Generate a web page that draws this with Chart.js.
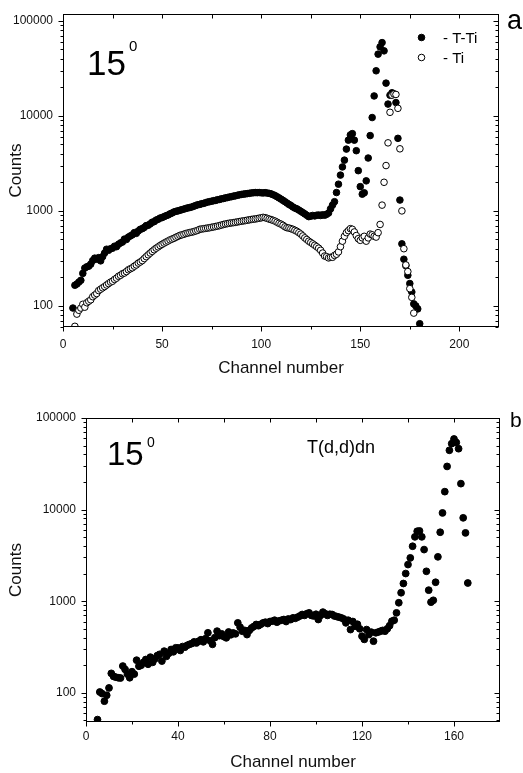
<!DOCTYPE html>
<html><head><meta charset="utf-8">
<script src="https://cdn.jsdelivr.net/npm/chart.js@4.4.1/dist/chart.umd.min.js"></script>
<style>
html,body{margin:0;padding:0;background:#fff;}
#wrap{position:relative;width:523px;height:773px;overflow:hidden;background:#fff;}
#ca{position:absolute;left:0;top:0;}
#cb{position:absolute;left:0;top:390px;}
</style></head><body>
<div id="wrap">
<canvas id="ca" width="523" height="390"></canvas>
<canvas id="cb" width="523" height="383"></canvas>
</div>
<script>
// ---------- DATA ----------
// Panel a: T-Ti target (filled) and Ti backing (open)
const channelsTTi = [5,6,7,8,9,10,11,12,13,14,15,16,17,18,19,20,21,22,23,24,25,26,27,28,29,30,31,32,33,34,35,36,37,38,39,40,41,42,43,44,45,46,47,48,49,50,51,52,53,54,55,56,57,58,59,60,61,62,63,64,65,66,67,68,69,70,71,72,73,74,75,76,77,78,79,80,81,82,83,84,85,86,87,88,89,90,91,92,93,94,95,96,97,98,99,100,101,102,103,104,105,106,107,108,109,110,111,112,113,114,115,116,117,118,119,120,121,122,123,124,125,126,127,128,129,130,131,132,133,134,135,136,137,138,139,140,141,142,143,144,145,146,147,148,149,150,151,152,153,154,155,156,157,158,159,160,161,162,163,164,165,166,167,168,169,170,171,172,173,174,175,176,177,178,179,180];
const countsTTi = [
 95,165,170,178,186,220,250,258,262,275,
 300,318,310,322,298,330,360,395,385,400,
 405,425,420,445,460,470,505,500,530,545,
 560,590,580,615,640,650,670,700,705,730,
 760,770,800,815,840,850,870,890,905,930,
 950,975,990,1000,1015,1030,1045,1060,1075,1085,
 1100,1120,1140,1160,1170,1190,1200,1220,1240,1250,
 1265,1280,1290,1310,1320,1340,1350,1370,1380,1400,
 1410,1430,1440,1460,1475,1490,1500,1510,1520,1530,
 1545,1550,1560,1555,1560,1550,1545,1555,1540,1530,
 1510,1480,1450,1410,1370,1330,1290,1250,1210,1170,
 1140,1100,1070,1050,1020,990,960,930,900,870,
 880,895,885,900,905,895,910,900,920,950,
 1050,1150,1250,1560,1910,2380,2900,3420,4470,5550,
 6300,6500,5550,4300,2650,1800,1500,1550,2070,3600,
 6200,9600,16200,29800,44600,53200,59000,48300,22100,13300,
 16500,17500,17000,13800,5800,1300,450,310,265,210,
 172,140,105,100,93,65];
const channelsTi = [6,7,8,9,10,11,12,13,14,15,16,17,18,19,20,21,22,23,24,25,26,27,28,29,30,31,32,33,34,35,36,37,38,39,40,41,42,43,44,45,46,47,48,49,50,51,52,53,54,55,56,57,58,59,60,61,62,63,64,65,66,67,68,69,70,71,72,73,74,75,76,77,78,79,80,81,82,83,84,85,86,87,88,89,90,91,92,93,94,95,96,97,98,99,100,101,102,103,104,105,106,107,108,109,110,111,112,113,114,115,116,117,118,119,120,121,122,123,124,125,126,127,128,129,130,131,132,133,134,135,136,137,138,139,140,141,142,143,144,145,146,147,148,149,150,151,152,153,154,155,156,157,158,159,160,161,162,163,164,165,166,167,168,169,170,171,172,173,174,175,176,177];
const countsTi = [
 61,82,90,95,104,97,108,112,116,125,
 130,135,145,150,155,160,166,172,178,182,
 190,196,205,210,218,222,230,240,246,252,
 262,270,282,290,300,315,330,345,360,375,
 390,405,418,432,445,458,470,482,495,505,
 515,528,540,552,560,568,578,585,592,598,
 605,615,625,640,645,650,655,660,665,672,
 678,685,692,700,710,720,728,735,742,748,
 752,758,765,772,778,785,790,798,805,812,
 818,822,830,838,845,855,848,835,820,810,
 795,780,760,740,725,705,680,665,660,650,
 640,625,610,590,570,545,520,500,480,465,
 450,435,420,405,385,360,335,330,320,325,
 325,340,350,370,420,480,540,590,620,650,
 640,600,550,510,490,520,540,480,520,570,
 560,540,530,590,720,1150,2000,3000,5200,10900,
 16500,17000,16800,12000,4500,1000,400,270,230,152,
 123,84];
// Panel b: T(d,d)dn difference spectrum
const channelsDn = [5,6,7,8,9,10,11,12,13,14,15,16,17,18,19,20,21,22,23,24,25,26,27,28,29,30,31,32,33,34,35,36,37,38,39,40,41,42,43,44,45,46,47,48,49,50,51,52,53,54,55,56,57,58,59,60,61,62,63,64,65,66,67,68,69,70,71,72,73,74,75,76,77,78,79,80,81,82,83,84,85,86,87,88,89,90,91,92,93,94,95,96,97,98,99,100,101,102,103,104,105,106,107,108,109,110,111,112,113,114,115,116,117,118,119,120,121,122,123,124,125,126,127,128,129,130,131,132,133,134,135,136,137,138,139,140,141,142,143,144,145,146,147,148,149,150,151,152,153,154,155,156,157,158,159,160,161,162,163,164,165,166];
const countsDn = [
 51,102,98,81,94,113,163,151,148,146,
 145,196,180,160,146,170,160,227,195,200,
 215,231,205,245,215,235,255,263,222,285,
 250,270,297,280,310,309,290,320,315,330,
 338,345,360,350,366,380,360,390,452,370,
 338,400,471,420,440,410,398,461,430,450,
 440,580,520,470,480,432,480,510,530,557,
 540,560,580,590,570,600,605,620,590,610,
 620,631,600,640,630,658,650,670,690,716,
 700,730,746,700,690,720,631,700,760,730,
 700,720,716,690,680,670,658,640,580,620,
 490,600,533,560,500,415,383,490,432,460,
 366,452,460,470,480,471,500,540,605,620,
 746,962,1237,1560,2005,2512,2970,3980,5040,5800,
 5850,5040,3660,2120,1320,977,1023,1610,3050,5660,
 9200,15700,29600,44400,52500,59000,54000,46200,19200,8130,
 5570,1580];
const xTicksA = [0,50,100,150,200];
const xMinorA = [25,75,125,175];
const xTicksB = [0,40,80,120,160];
const xMinorB = [20,60,100,140];
const yTicks = [100,1000,10000,100000];
const legendLabels = ['- T-Ti','- Ti'];

// ---------- CHART ----------
Chart.defaults.font.family = "'Liberation Sans', Arial, sans-serif";
const FONT = "'Liberation Sans', Arial, sans-serif";
const pts = (xs, ys) => xs.map((c, i) => ({x: c, y: ys[i]}));

function yMinorList(min, max) {
  const out = [];
  for (let d = 10; d <= 100000; d *= 10) {
    for (let k = 2; k <= 9; k++) { const v = k * d; if (v >= min && v <= max) out.push(v); }
  }
  [10,100,1000,10000,100000].forEach(v => { if (v >= min && v <= max && yTicks.indexOf(v) < 0) out.push(v); });
  return out;
}

function decorPlugin(cfg) {
  return {
    id: 'decor',
    afterDraw(chart) {
      const ctx = chart.ctx, a = chart.chartArea;
      const xs = chart.scales.x, ys = chart.scales.y;
      const L = Math.round(a.left) + 0.5, R = Math.round(a.right) - 0.5;
      const T = Math.round(a.top) + 0.5, B = Math.round(a.bottom) - 0.5;
      ctx.save();
      ctx.strokeStyle = '#000';
      ctx.lineWidth = 1;
      ctx.strokeRect(L, T, R - L, B - T);
      ctx.beginPath();
      const hx = v => Math.round(xs.getPixelForValue(v)) + 0.5;
      const vy = v => Math.round(ys.getPixelForValue(v)) + 0.5;
      cfg.xMajor.forEach(v => { const x = hx(v); ctx.moveTo(x, B); ctx.lineTo(x, B + 5); ctx.moveTo(x, T); ctx.lineTo(x, T + 4); });
      cfg.xMinor.forEach(v => { const x = hx(v); ctx.moveTo(x, B); ctx.lineTo(x, B + 3); ctx.moveTo(x, T); ctx.lineTo(x, T + 4); });
      yTicks.forEach(v => { if (v < ys.min || v > ys.max) return; const y = vy(v); ctx.moveTo(L, y); ctx.lineTo(L - 5, y); ctx.moveTo(R, y); ctx.lineTo(R - 5, y); });
      yMinorList(ys.min, ys.max).forEach(v => { const y = vy(v); ctx.moveTo(L, y); ctx.lineTo(L - 3, y); ctx.moveTo(R, y); ctx.lineTo(R - 3, y); });
      ctx.stroke();
      ctx.fillStyle = '#000';
      ctx.textBaseline = 'alphabetic';
      ctx.textAlign = 'left';
      cfg.texts.forEach(t => { ctx.font = t.size + 'px ' + FONT; ctx.fillText(t.text, t.x, t.y); });
      (cfg.legend || []).forEach(l => {
        ctx.beginPath();
        ctx.arc(l.mx, l.my, 3.3, 0, Math.PI * 2);
        ctx.fillStyle = l.fill;
        ctx.fill();
        ctx.strokeStyle = '#000';
        ctx.lineWidth = 1;
        ctx.stroke();
        ctx.fillStyle = '#000';
        ctx.font = l.size + 'px ' + FONT;
        ctx.fillText(l.text, l.tx, l.ty);
      });
      ctx.restore();
    }
  };
}

function makeChart(id, o) {
  return new Chart(document.getElementById(id), {
    type: 'scatter',
    data: { datasets: o.datasets },
    options: {
      responsive: false, animation: false, events: [],
      layout: { padding: o.pad },
      plugins: { legend: { display: false }, tooltip: { enabled: false } },
      scales: {
        x: {
          type: 'linear', min: o.xmin, max: o.xmax,
          afterBuildTicks: s => { s.ticks = o.xMajor.map(v => ({value: v})); },
          afterFit: s => { s.height = o.xh; },
          ticks: { autoSkip: false, maxRotation: 0, padding: o.xpad, color: '#111', font: { size: 12 }, callback: v => String(v) },
          grid: { display: false, drawTicks: true, tickLength: 5 },
          border: { display: false },
          title: { display: true, text: 'Channel number', color: '#111', font: { size: 17 }, padding: { top: 0, bottom: o.xtpad } }
        },
        y: {
          type: 'logarithmic', min: o.ymin, max: o.ymax,
          afterBuildTicks: s => { s.ticks = yTicks.filter(v => v >= o.ymin && v <= o.ymax).map(v => ({value: v})); },
          afterFit: s => { s.width = o.yw; },
          ticks: { autoSkip: false, padding: 5, color: '#111', font: { size: 12 }, callback: v => String(v) },
          grid: { display: false, drawTicks: true, tickLength: 5 },
          border: { display: false },
          title: { display: true, text: 'Counts', color: '#111', font: { size: 17 }, padding: { top: 6, bottom: 0 } }
        }
      }
    },
    plugins: [decorPlugin(o.decor)]
  });
}

makeChart('ca', {
  datasets: [
    { label: 'Ti', data: pts(channelsTi, countsTi), order: 0, pointRadius: 3.3, pointBackgroundColor: '#fff', pointBorderColor: '#000', pointBorderWidth: 1 },
    { label: 'T-Ti', data: pts(channelsTTi, countsTTi), order: 1, pointRadius: 3.3, pointBackgroundColor: '#000', pointBorderColor: '#000', pointBorderWidth: 1 }
  ],
  pad: { left: 0, right: 24, top: 14, bottom: 0 },
  xmin: 0, xmax: 220, xMajor: xTicksA, xh: 63, xpad: 5, xtpad: 11,
  ymin: 60, ymax: 118000, yw: 63,
  decor: {
    xMajor: xTicksA, xMinor: xMinorA,
    texts: [
      { text: '15', size: 35, x: 87, y: 75 },
      { text: '0', size: 15, x: 129, y: 51 },
      { text: 'a', size: 27, x: 507, y: 29 }
    ],
    legend: [
      { mx: 421.5, my: 37.5, fill: '#000', text: legendLabels[0], size: 15, tx: 443, ty: 43 },
      { mx: 421.5, my: 57.5, fill: '#fff', text: legendLabels[1], size: 15, tx: 443, ty: 63 }
    ]
  }
});

makeChart('cb', {
  datasets: [
    { label: 'T(d,d)dn', data: pts(channelsDn, countsDn), pointRadius: 3.4, pointBackgroundColor: '#000', pointBorderColor: '#000', pointBorderWidth: 1 }
  ],
  pad: { left: 0, right: 23, top: 28, bottom: 0 },
  xmin: 0, xmax: 180, xMajor: xTicksB, xh: 51, xpad: 2, xtpad: 0,
  ymin: 48, ymax: 100000, yw: 86,
  decor: {
    xMajor: xTicksB, xMinor: xMinorB,
    texts: [
      { text: '15', size: 33, x: 107, y: 75 },
      { text: '0', size: 14, x: 147, y: 57 },
      { text: 'T(d,d)dn', size: 18, x: 307, y: 63 },
      { text: 'b', size: 21, x: 510, y: 37 }
    ]
  }
});
</script>
</body></html>
